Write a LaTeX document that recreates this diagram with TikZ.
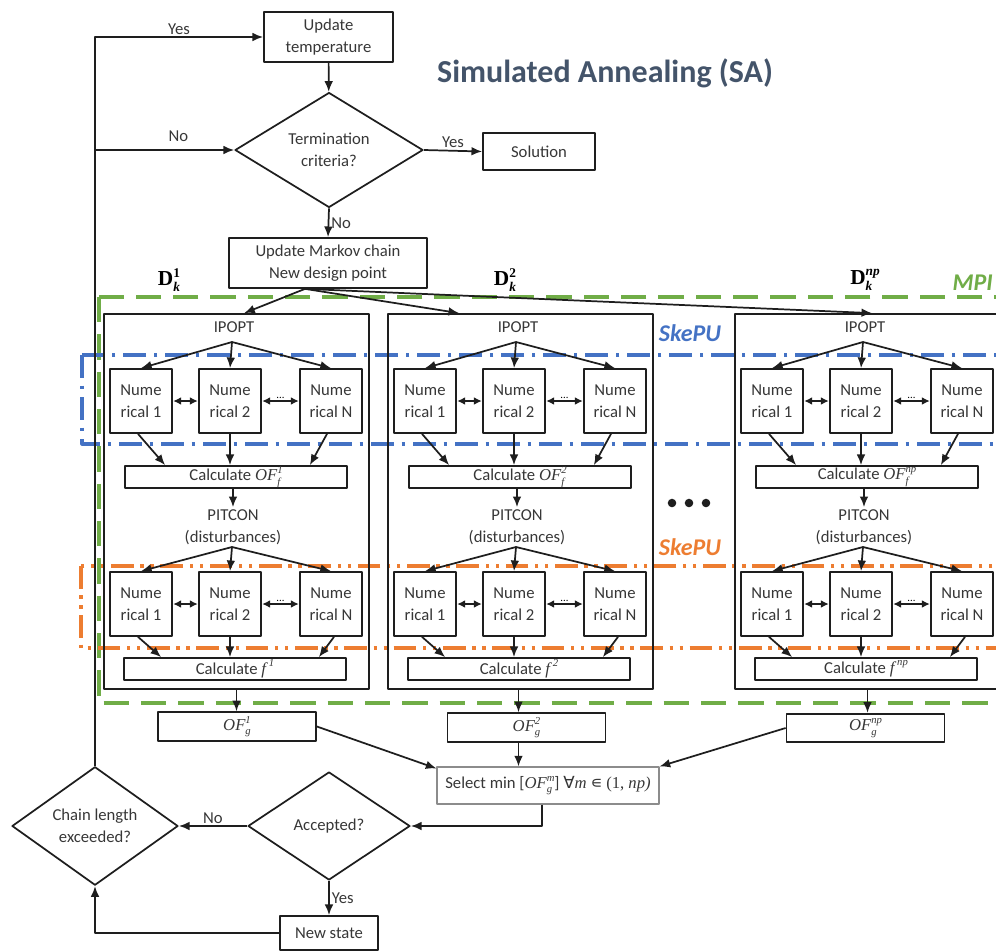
\documentclass[tikz,border=0pt]{standalone}
\usepackage{fontspec}
\setmainfont{Carlito}
\newfontfamily\tnr{Liberation Serif}
\newfontfamily\dvs{DejaVu Sans}
\usepackage{tikz}
\usetikzlibrary{arrows.meta,calc,shapes.geometric}
\definecolor{saedge}{RGB}{30,30,30}
\definecolor{satext}{RGB}{55,55,55}
\definecolor{satitle}{RGB}{68,84,106}
\definecolor{sagreen}{RGB}{112,173,71}
\definecolor{sablue}{RGB}{68,114,196}
\definecolor{saorange}{RGB}{237,125,49}
\newcommand{\msz}{\fontsize{12.5}{16.5}\selectfont}
\newcommand{\ssz}{\fontsize{8}{9}\selectfont}
\newcommand{\ofss}[2]{\makebox[0pt][l]{\raisebox{-0.55ex}{\ssz#1}}\raisebox{0.95ex}{\ssz#2}}
\newcommand{\dk}[1]{\makebox[0pt][l]{\raisebox{-0.6ex}{\fontsize{10}{10}\selectfont\itshape k}}\raisebox{0.9ex}{\fontsize{10}{10}\selectfont #1}}
\tikzset{
  sabox/.style={
    draw=saedge, line width=1.3pt, fill=white, align=center,
    inner sep=0pt, font=\msz, text=satext
  },
  numbox/.style={sabox, minimum width=47pt, minimum height=48pt},
  calcbox/.style={sabox, minimum width=166.5pt, minimum height=16.5pt},
  ofbox/.style={sabox, minimum width=118.5pt, minimum height=21.5pt},
  colbox/.style={draw=saedge, line width=1.3pt, minimum width=198.75pt, minimum height=281.25pt},
  dec/.style={
    diamond, draw=saedge, line width=1.3pt, fill=white, align=center,
    inner sep=0pt, font=\msz, text=satext
  },
  lbl/.style={font=\msz, text=satext, inner sep=1.5pt, align=center},
  arr/.style={-{Latex[length=8pt,width=6.5pt]}, draw=saedge, line width=1.3pt},
  darr/.style={{Latex[length=6pt,width=6pt]}-{Latex[length=6pt,width=6pt]}, draw=saedge, line width=1.3pt},
  mpi/.style={draw=sagreen, line width=2.6pt, dash pattern=on 19pt off 9pt},
  skb/.style={draw=sablue, line width=2.4pt, dash pattern=on 17pt off 6pt on 2.5pt off 6pt},
  sko/.style={draw=saorange, line width=2.4pt, dash pattern=on 17pt off 5pt on 2.5pt off 5pt on 2.5pt off 5pt},
  tag/.style={font=\fontsize{18}{20}\selectfont\bfseries\itshape, inner sep=1pt}
}

\begin{document}
\begin{tikzpicture}[x=0.75pt, y=-0.75pt, line join=round]
  \useasboundingbox (0,0) rectangle (996,950);
  \clip (0,0) rectangle (996,950);
  % MPI / SkePU regions
  \draw[mpi] (99,297) rectangle (1012,703);
  \draw[skb] (82,355) rectangle (1012,444);
  \draw[sko] (81,566) rectangle (1012,648);

  \node[sabox, minimum width=96.75pt, minimum height=37.5pt] (upd) at (328.5,37) {Update\\temperature};
  \node[font=\fontsize{24}{28}\selectfont\bfseries, text=satitle] (ttl) at (605,73) {Simulated Annealing (SA)};
  \node[dec, minimum width=141pt, minimum height=80pt] (term) at (329,150) {Termination\\criteria?};
  \node[sabox, minimum width=84pt, minimum height=27.75pt] (sol) at (539,151.5) {Solution};
  \node[sabox, minimum width=148.5pt, minimum height=37.5pt] (mkv) at (328,263) {Update Markov chain\\New design point};

  \node[tag, text=sagreen, anchor=west] (mpil) at (951,283) {MPI};
  \node[tag, text=sablue] (skbl) at (690,333) {SkePU};
  \node[tag, text=saorange] (skol) at (690,547) {SkePU};
  \node[font=\fontsize{16}{18}\selectfont\tnr\bfseries] (d1) at (169,280) {D\dk{1}};
  \node[font=\fontsize{16}{18}\selectfont\tnr\bfseries] (d2) at (505,280) {D\dk{2}};
  \node[font=\fontsize{16}{18}\selectfont\tnr\bfseries] (dn) at (865,280) {D\dk{\itshape np}};
  \foreach \dx in {672,689,706} \fill[saedge] (\dx,503) circle (3.2pt);

  % one column per design point
  \foreach \cx/\ci/\cs in {104/a/1,388/b/2,735/c/np} {
    \begin{scope}[shift={(\cx,0)}]
      \node[colbox] (col\ci) at (132.5,501.5) {};
      \node[lbl] (ip\ci) at (130,327) {IPOPT};
      \coordinate (ipf\ci) at (128,342);
      \node[numbox] (ua\ci) at (37,401) {Nume\\rical 1};
      \node[numbox] (ub\ci) at (126,401) {Nume\\rical 2};
      \node[numbox] (uc\ci) at (227,401) {Nume\\rical N};
      \node[calcbox] (cof\ci) at (132,477) {Calculate {\tnr\itshape OF\ofss{f}{\cs}}};
      \node[lbl] (pit\ci) at (129,527) {PITCON\\(disturbances)};
      \coordinate (pitf\ci) at (128,547);
      \node[numbox] (la\ci) at (37,604) {Nume\\rical 1};
      \node[numbox] (lb\ci) at (126,604) {Nume\\rical 2};
      \node[numbox] (lc\ci) at (227,604) {Nume\\rical N};
      \node[calcbox] (cf\ci) at (131,669) {Calculate {\tnr\itshape f}\,\raisebox{0.95ex}{\ssz\tnr\itshape\cs}};
      \draw[arr] (ipf\ci) -- (ua\ci.north);
      \draw[arr] (ipf\ci) -- (ub\ci.north);
      \draw[arr] (ipf\ci) -- (uc\ci.north);
      \draw[darr] (ua\ci) -- (ub\ci);
      \draw[darr] (ub\ci) -- (uc\ci) node[midway, above, font=\ssz, inner sep=1pt] {...};
      \draw[arr] ($(ua\ci.south)+(-3,0)$) -- ($(cof\ci.north west)+(41,0)$);
      \draw[arr] (ub\ci.south) -- (ub\ci.south |- cof\ci.north);
      \draw[arr] ($(uc\ci.south)+(-4,0)$) -- ($(cof\ci.north east)+(-38,0)$);
      \draw[arr] (cof\ci.south -| pit\ci.north) -- (pit\ci.north);
      \draw[arr] (pitf\ci) -- (la\ci.north);
      \draw[arr] (pitf\ci) -- (lb\ci.north);
      \draw[arr] (pitf\ci) -- (lc\ci.north);
      \draw[darr] (la\ci) -- (lb\ci);
      \draw[darr] (lb\ci) -- (lc\ci) node[midway, above, font=\ssz, inner sep=1pt] {...};
      \draw[arr] ($(la\ci.south)+(-3,0)$) -- ($(cf\ci.north west)+(38,0)$);
      \draw[arr] (lb\ci.south) -- (lb\ci.south |- cf\ci.north);
      \draw[arr] ($(lc\ci.south)+(3,0)$) -- ($(cf\ci.north east)+(-28,0)$);
    \end{scope}
  }

  \node[ofbox] (ofga) at (237,726.5) {{\tnr\itshape OF\ofss{g}{1}}};
  \node[ofbox] (ofgb) at (526.5,727.5) {{\tnr\itshape OF\ofss{g}{2}}};
  \node[ofbox] (ofgc) at (865.5,728) {{\tnr\itshape OF\ofss{g}{np}}};
  \node[sabox, draw=black!45, line width=0.8pt, minimum width=166.5pt, minimum height=27.75pt] (sel) at (548,785.5)
    {Select min [{\tnr\itshape OF\ofss{g}{m}}] {\dvs ∀}{\tnr\itshape m} {\dvs ∊} {\tnr (1, \itshape np)}};
  \node[dec, minimum width=121.5pt, minimum height=81pt] (acc) at (329,826) {Accepted?};
  \node[dec, minimum width=124.5pt, minimum height=81pt] (chn) at (95,826) {Chain length\\exceeded?};
  \node[sabox, minimum width=73.5pt, minimum height=25.5pt] (new) at (329,933) {New state};

  \draw[arr] (upd) -- (term);
  \draw[arr] (term.east) -- (sol.west) node[lbl, midway, above] {Yes};
  \draw[arr] (term.south) -- (mkv.north) node[lbl, midway, right] {No};
  \draw[arr] (chn.north) |- (upd.west) node[lbl, pos=0.75, above] {Yes};
  \draw[arr] (chn.north) |- (term.west) node[lbl, pos=0.8, above=4pt] {No};
  \coordinate (mkf) at ($(mkv.south)+(-23,0)$);
  \draw[arr] (mkf) -- ($(cola.north west)+(141,0)$);
  \draw[arr] (mkf) -- ($(colb.north west)+(72,0)$);
  \draw[arr] (mkf) -- ($(colc.north west)+(138,0)$);
  \draw[arr] (cola.south) -- (cola.south |- ofga.north);
  \draw[arr] ($(colb.south)+(-2,0)$) -- ($(colb.south |- ofgb.north)+(-2,0)$);
  \draw[arr] (colc.south) -- (colc.south |- ofgc.north);
  \draw[arr] (ofga.east) -- ($(sel.north west)+(0,2)$);
  \draw[arr] ($(colb.south |- ofgb.south)+(-2,0)$) -- ($(colb.south |- sel.north)+(-2,0)$);
  \draw[arr] (ofgc.west) -- (sel.north east);
  \draw[arr] ($(sel.south)+(-6,0)$) |- (acc.east);
  \draw[arr] (acc.west) -- (chn.east) node[lbl, midway, above] {No};
  \draw[arr] (acc.south) -- (new.north) node[lbl, midway, right] {Yes};
  \draw[arr] (new.west) -| (chn.south);
\end{tikzpicture}
\end{document}
